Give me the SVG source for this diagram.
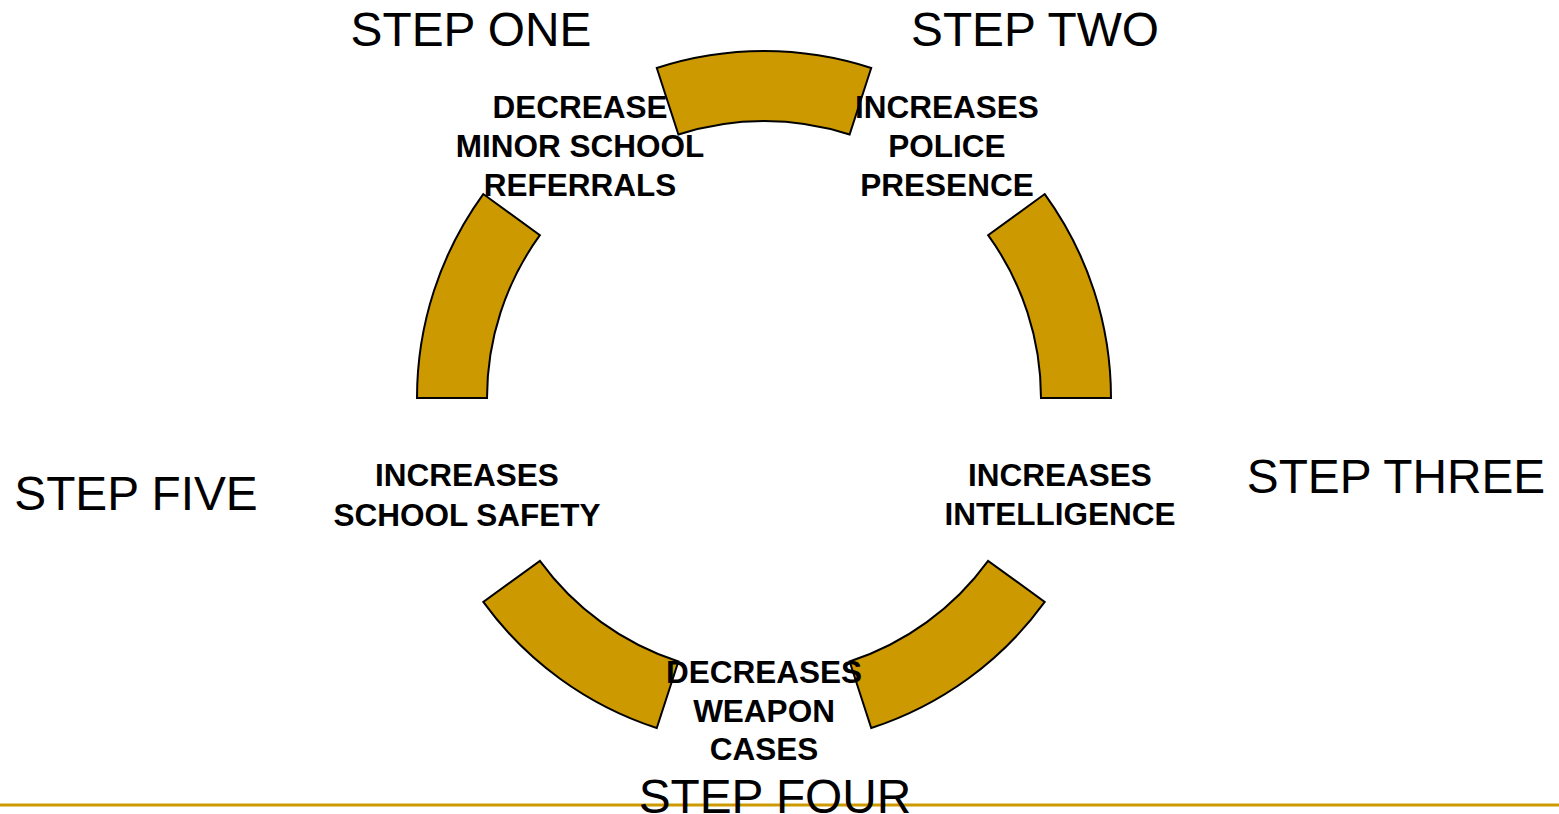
<svg xmlns="http://www.w3.org/2000/svg" width="1559" height="814" viewBox="0 0 1559 814">
<style>
.arc{fill:#CC9900;stroke:#000;stroke-width:2;stroke-linejoin:miter}
.lbl{font-family:"Liberation Sans",Arial,sans-serif;font-weight:bold;font-size:31.5px;fill:#000;text-anchor:middle}
.step{font-family:"Liberation Sans",Arial,sans-serif;font-size:47.8px;fill:#000;text-anchor:middle}
</style>
<rect width="1559" height="814" fill="#fff"/>
<line x1="0" y1="805" x2="1559" y2="805" stroke="#CC9900" stroke-width="3"/>
<g id="connectors">
<path class="arc" d="M656.77,67.98 A347,347 0 0 1 871.23,67.98 L849.60,134.56 A277,277 0 0 0 678.40,134.56 Z"/>
<path class="arc" d="M1044.73,194.04 A347,347 0 0 1 1111,398 L1041,398 A277,277 0 0 0 988.10,235.18 Z"/>
<path class="arc" d="M1044.73,601.96 A347,347 0 0 1 871.23,728.02 L849.60,661.44 A277,277 0 0 0 988.10,560.82 Z"/>
<path class="arc" d="M656.77,728.02 A347,347 0 0 1 483.27,601.96 L539.90,560.82 A277,277 0 0 0 678.40,661.44 Z"/>
<path class="arc" d="M417,398 A347,347 0 0 1 483.27,194.04 L539.90,235.18 A277,277 0 0 0 487,398 Z"/>
</g>
<g id="node1">
<text class="step" x="471" y="46">STEP ONE</text>
<text class="lbl" x="580" y="118">DECREASE</text>
<text class="lbl" x="580" y="157">MINOR SCHOOL</text>
<text class="lbl" x="580" y="196">REFERRALS</text>
</g>
<g id="node2">
<text class="step" x="1035" y="46">STEP TWO</text>
<text class="lbl" x="947" y="118">INCREASES</text>
<text class="lbl" x="947" y="157">POLICE</text>
<text class="lbl" x="947" y="196">PRESENCE</text>
</g>
<g id="node3">
<text class="step" x="1396" y="493">STEP THREE</text>
<text class="lbl" x="1060" y="486">INCREASES</text>
<text class="lbl" x="1060" y="525">INTELLIGENCE</text>
</g>
<g id="node4">
<text class="step" x="775" y="813">STEP FOUR</text>
<text class="lbl" x="764" y="683">DECREASES</text>
<text class="lbl" x="764" y="722">WEAPON</text>
<text class="lbl" x="764" y="760">CASES</text>
</g>
<g id="node5">
<text class="step" x="136" y="510">STEP FIVE</text>
<text class="lbl" x="467" y="486">INCREASES</text>
<text class="lbl" x="467" y="526">SCHOOL SAFETY</text>
</g>
</svg>
